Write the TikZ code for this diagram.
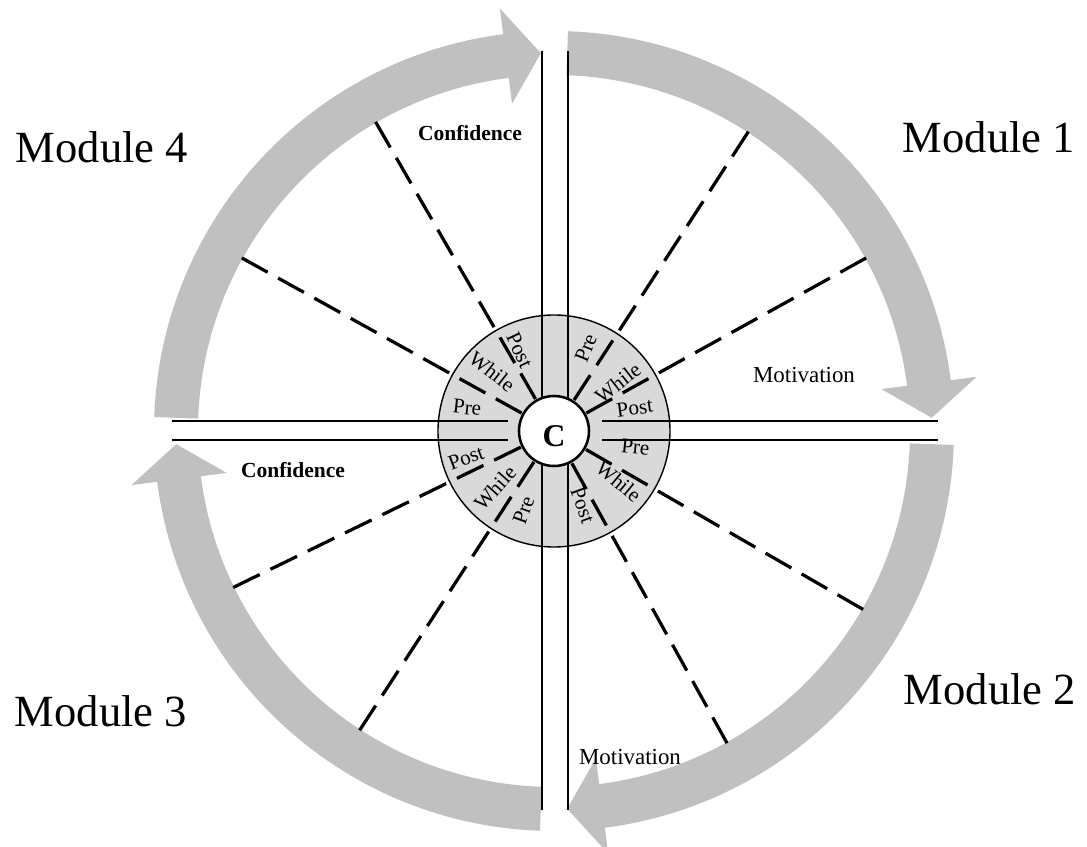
\documentclass[tikz,border=0pt]{standalone}
\usepackage{fontspec}
\setmainfont{Liberation Serif}
\usetikzlibrary{positioning}
\definecolor{arrowgray}{RGB}{192,192,192}
\definecolor{ringgray}{RGB}{217,217,217}
\begin{document}
\begin{tikzpicture}[x=0.025cm,y=0.025cm,
        module/.style={font=\fontsize{31.7}{36}\selectfont},
        topic/.style={font=\fontsize{16.3}{18}\selectfont},
        phase/.style={font=\fontsize{15}{17}\selectfont,inner sep=0pt},
        divider/.style={line width=2.3pt,dash pattern=on 21pt off 8.5pt},
        gap/.style={line width=1.4pt}]
        \useasboundingbox (-554,-416) rectangle (533,431);
        %% Module arrows
        \foreach \b in {90,0,-90,-180}
            \fill[arrowgray] ({\b-2}:400)
                arc[start angle={\b-2},end angle={\b-82.7},radius=400]
                -- ({\b-82.7}:426) -- ({\b-88}:378) -- ({\b-82.7}:330)
                -- ({\b-82.7}:356)
                arc[start angle={\b-82.7},end angle={\b-2},radius=356] -- cycle;
        %% Phase ring
        \draw[fill=ringgray,line width=1pt] (0,0) circle[radius=116];
        %% Gaps between modules
        \foreach \x in {-12,14} {
            \draw[gap] (\x,380) -- (\x,30);
            \draw[gap] (\x,-379) -- (\x,-30);
        }
        \foreach \y in {10,-9} {
            \draw[gap] (-382,\y) -- (-46,\y);
            \draw[gap] (384,\y) -- (48,\y);
        }
        %% Phase dividers
        \foreach \a in {57,29,-30,-61,-154,-123,151,120}
            \draw[divider] (\a:37) -- (\a:358);
        %% Core
        \node[circle,draw,fill=white,line width=1.8pt,minimum size=1.75cm,
            inner sep=0pt] (core) at (0,0) {};
        \node[font=\bfseries\fontsize{22.5}{24}\selectfont] (coreC) at (0,-5) {C};
        %% Phase labels
        \foreach \a/\r/\rot/\t [count=\i] in
            {69/89/68/Pre,37/80/38/While,16/84/8/Post,
             -11/83/-6/Pre,-38/82/-40/While,-69/80/-70/Post,
             197/92/20/Post,224/82/48/While,249/85/70/Pre,
             165/90/-6/Pre,136/86/-38/While,113/88/-65/Post}
            \node[phase,rotate=\rot] (phase\i) at (\a:\r) {\t};
        %% Module names
        \node[module] (mod1) at (435,294) {Module 1};
        \node[module] (mod2) at (436,-258) {Module 2};
        \node[module] (mod3) at (-453,-280) {Module 3};
        \node[module] (mod4) at (-452,284) {Module 4};
        %% Topics
        \node[topic,font=\bfseries\fontsize{15.3}{18}\selectfont] (conf1) at (-84,298) {Confidence};
        \node[topic,font=\bfseries\fontsize{15.3}{18}\selectfont] (conf2) at (-261,-39) {Confidence};
        \node[topic] (motiv1) at (250,56) {Motivation};
        \node[topic] (motiv2) at (76,-326) {Motivation};
    \end{tikzpicture}
\end{document}
